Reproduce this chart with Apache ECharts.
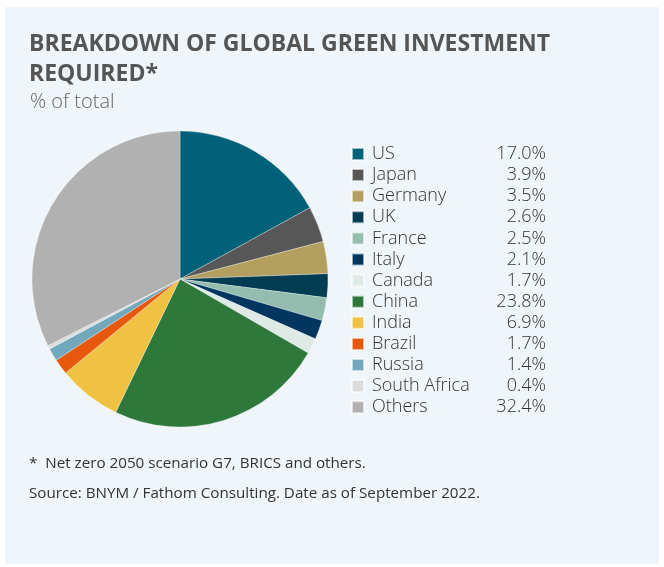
<!DOCTYPE html>
<html>
<head>
<meta charset="utf-8">
<style>
  html, body { margin: 0; padding: 0; background: #ffffff; }
  #chart { width: 664px; height: 567px; }
</style>
<script src="https://cdn.jsdelivr.net/npm/echarts@6/dist/echarts.min.js"></script>
</head>
<body>
<div id="chart"></div>
<script>
// Share of global green investment required, % of total
const countries = ['US', 'Japan', 'Germany', 'UK', 'France', 'Italy', 'Canada',
  'China', 'India', 'Brazil', 'Russia', 'South Africa', 'Others'];
const shares = [17.0, 3.9, 3.5, 2.6, 2.5, 2.1, 1.7, 23.8, 6.9, 1.7, 1.4, 0.4, 32.4];
const sliceColors = ['#00627a', '#575757', '#b3a060', '#003d52', '#94bdb0', '#003660',
  '#dfe9e5', '#2f783c', '#f0c244', '#e8580c', '#72a8bb', '#dcdcdc', '#b1b1b1'];

const valueByName = {};
countries.forEach((c, i) => { valueByName[c] = shares[i]; });

const chart = echarts.init(document.getElementById('chart'), null, { renderer: 'canvas' });

const legendFont = { fontFamily: 'Open Sans', fontWeight: 300, fontSize: 18, color: '#333333' };

chart.setOption({
  animation: false,
  backgroundColor: '#ffffff',
  graphic: [{
    type: 'rect',
    z: -10,
    shape: { x: 5, y: 7, width: 654, height: 557 },
    style: { fill: '#eff5f8' }
  }],
  title: [
    {
      text: 'BREAKDOWN OF GLOBAL GREEN INVESTMENT\nREQUIRED*',
      left: 24, top: 24,
      textStyle: {
        fontFamily: 'Open Sans', fontWeight: 'bold', fontSize: 23,
        color: '#555555', lineHeight: 30
      }
    },
    {
      text: '% of total',
      left: 25, top: 87,
      textStyle: { fontFamily: 'Open Sans', fontWeight: 300, fontSize: 20, color: '#666666' }
    },
    {
      text: '*  Net zero 2050 scenario G7, BRICS and others.',
      left: 24, top: 451,
      textStyle: { fontFamily: 'Open Sans', fontWeight: 'normal', fontSize: 15.2, color: '#333333' }
    },
    {
      text: 'Source: BNYM / Fathom Consulting. Date as of September 2022.',
      left: 24, top: 481,
      textStyle: { fontFamily: 'Open Sans', fontWeight: 'normal', fontSize: 15.2, color: '#333333' }
    }
  ],
  legend: {
    orient: 'vertical',
    left: 346, top: 140,
    icon: 'rect',
    itemWidth: 12, itemHeight: 12,
    itemGap: 3.1,
    data: countries,
    formatter: name => '{n|' + name + '}{v|' + valueByName[name].toFixed(1) + '%}',
    textStyle: Object.assign({}, legendFont, {
      rich: {
        n: Object.assign({ width: 116, padding: [0, 0, 0, 3] }, legendFont),
        v: Object.assign({ width: 58, align: 'right' }, legendFont)
      }
    })
  },
  series: [{
    type: 'pie',
    center: [180, 279],
    radius: [0, 148],
    startAngle: 90,
    clockwise: true,
    label: { show: false },
    labelLine: { show: false },
    emphasis: { disabled: true },
    itemStyle: { borderColor: 'rgba(255,255,255,0.6)', borderWidth: 0.5 },
    data: countries.map((c, i) => ({ name: c, value: shares[i], itemStyle: { color: sliceColors[i] } }))
  }]
});
</script>
</body>
</html>
